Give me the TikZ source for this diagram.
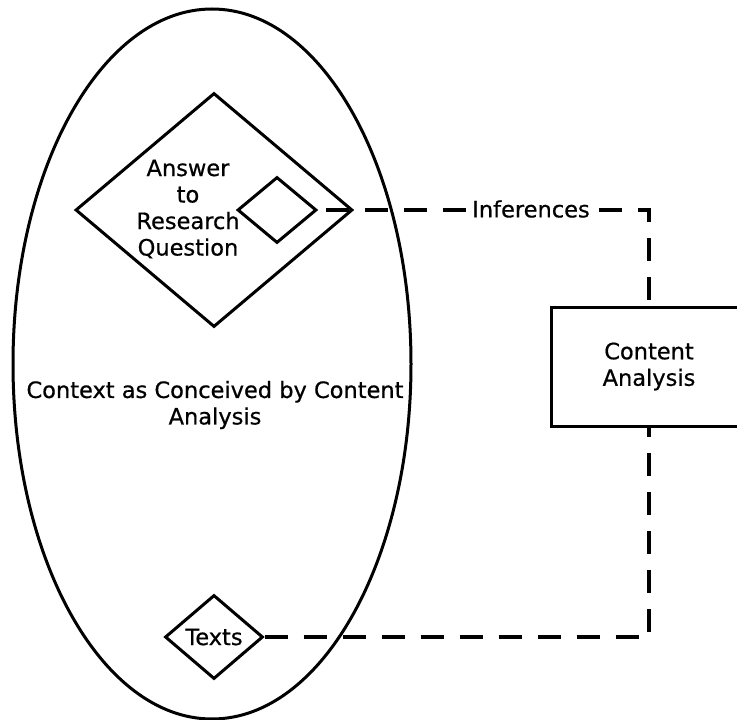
\documentclass[tikz,border=0pt]{standalone}
\usepackage{fontspec}
\setmainfont{DejaVu Sans}[FakeBold=0.6]
\usetikzlibrary{shapes.geometric}
\tikzset{
  solidline/.style={line width=3pt, line join=miter},
  dashline/.style={line width=3.3pt, dash pattern=on 23pt off 16pt, dash phase=-8pt},
  lbl/.style={font=\fontsize{22.5pt}{26.5pt}\selectfont, align=center, inner sep=0pt},
  dia/.style={diamond, draw, solidline, inner sep=0pt},
}
\begin{document}
\begin{tikzpicture}[x=1pt,y=-1pt]
\useasboundingbox (0,0) rectangle (737,720);
\clip (0,0) rectangle (737,720);
\node[ellipse, draw, solidline, minimum width=398pt, minimum height=710pt, inner sep=0pt] (ctx) at (212,364) {};
\node[lbl] (ctxlabel) at (215,405) {Context as Conceived by Content\\Analysis};
\node[dia, minimum width=277pt, minimum height=234pt] (answer) at (214,210) {};
\node[lbl] (answerlabel) at (188,209) {Answer\\to\\Research\\Question};
\node[dia, minimum width=79pt, minimum height=66pt] (small) at (277,210) {};
\node[dia, lbl, minimum width=98pt, minimum height=84pt] (texts) at (214,637) {Texts};
\node[draw, solidline, lbl, minimum width=196pt, minimum height=119pt] (ca) at (649,366.5) {Content\\Analysis};
\draw[dashline] (small.east) -| (ca.north);
\node[lbl, fill=white, inner xsep=3pt, inner ysep=2pt] (inf) at (531,209) {Inferences};
\draw[dashline, dash phase=0pt] (texts.east) -| (ca.south);
\end{tikzpicture}
\end{document}
